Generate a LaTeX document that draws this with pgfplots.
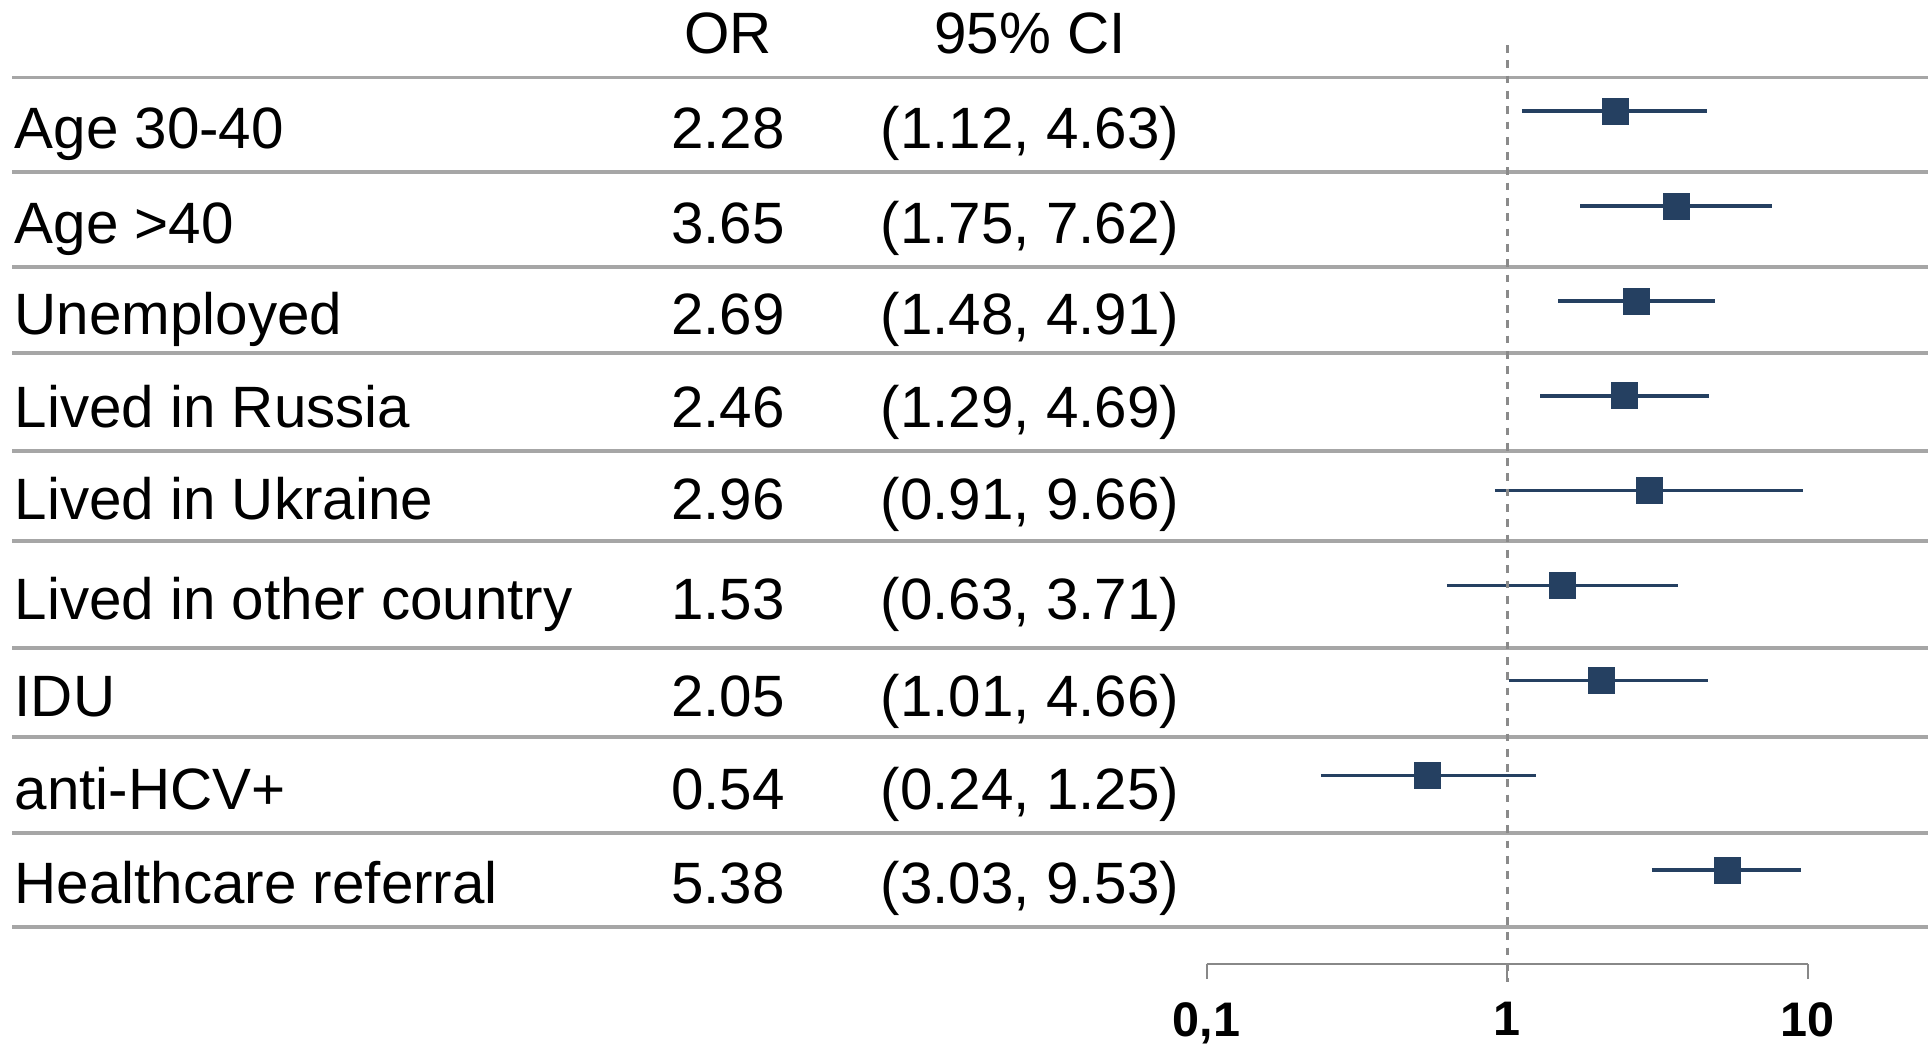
\documentclass[border=0pt]{standalone}
\usepackage{fontspec}
\setmainfont{Liberation Sans}
\usepackage{pgfplots}
\pgfplotsset{compat=1.18}
\usepackage{pgfplotstable}
\definecolor{navy}{RGB}{37,64,97}
\definecolor{rowline}{RGB}{166,166,166}
\definecolor{axisgray}{RGB}{136,136,136}
\definecolor{refgray}{RGB}{138,138,138}

\pgfplotstableread{
pos or lo hi
8 2.28 1.12 4.63
7 3.65 1.75 7.62
6 2.69 1.48 4.91
5 2.46 1.29 4.69
4 2.96 0.91 9.66
3 1.53 0.63 3.71
2 2.05 1.01 4.66
1 0.54 0.24 1.25
0 5.38 3.03 9.53
}\ortable

\begin{document}
\begin{tikzpicture}
\begin{scope}[x=0.1mm,y=-0.1mm]
  \fill[white] (0,0) rectangle (1928,1045);
  \foreach \y in {77.5,172,267,353,451,541,648,737,833,927}
    \draw[rowline, line width=0.36mm] (12,\y) -- (1928,\y);
  \begin{scope}[every node/.style={inner sep=0pt, font=\fontsize{16.6}{20}\selectfont}]
    \node[anchor=base] at (728,54) {OR};
    \node[anchor=base] at (1030,54) {95\% CI};
    % labels
    \node[anchor=base west] at (14,148) {Age 30-40};
    \node[anchor=base west] at (14,243) {Age >40};
    \node[anchor=base west] at (14,334) {Unemployed};
    \node[anchor=base west] at (14,427) {Lived in Russia};
    \node[anchor=base west] at (14,519) {Lived in Ukraine};
    \node[anchor=base west] at (14,619) {Lived in other country};
    \node[anchor=base west] at (14,716) {IDU};
    \node[anchor=base west] at (14,809) {anti-HCV+};
    \node[anchor=base west] at (14,903) {Healthcare referral};
    % OR
    \node[anchor=base] at (728,148) {2.28};
    \node[anchor=base] at (728,243) {3.65};
    \node[anchor=base] at (728,334) {2.69};
    \node[anchor=base] at (728,427) {2.46};
    \node[anchor=base] at (728,519) {2.96};
    \node[anchor=base] at (728,619) {1.53};
    \node[anchor=base] at (728,716) {2.05};
    \node[anchor=base] at (728,809) {0.54};
    \node[anchor=base] at (728,903) {5.38};
    % CI
    \node[anchor=base] at (1030,148) {(1.12, 4.63)};
    \node[anchor=base] at (1030,243) {(1.75, 7.62)};
    \node[anchor=base] at (1030,334) {(1.48, 4.91)};
    \node[anchor=base] at (1030,427) {(1.29, 4.69)};
    \node[anchor=base] at (1030,519) {(0.91, 9.66)};
    \node[anchor=base] at (1030,619) {(0.63, 3.71)};
    \node[anchor=base] at (1030,716) {(1.01, 4.66)};
    \node[anchor=base] at (1030,809) {(0.24, 1.25)};
    \node[anchor=base] at (1030,903) {(3.03, 9.53)};
  \end{scope}
\end{scope}

\begin{axis}[
  at={(120.67mm,-96.4mm)}, anchor=south west,
  scale only axis, width=60.1mm, height=91.9mm,
  xmode=log, xmin=0.1, xmax=10,
  ymin=-0.988, ymax=8.6955,
  axis y line=none,
  axis x line*=bottom,
  x axis line style={axisgray, line width=0.22mm, -},
  xtick={0.1,1,10}, xticklabels={{0,1},1,10},
  xminorticks=false,
  tick align=outside, major tick length=1.5mm,
  xtick style={axisgray, line width=0.22mm},
  xticklabel style={font=\fontsize{13.8}{15}\selectfont\bfseries, text=black, yshift=-1.1mm},
  clip=false,
]
  \addplot[navy, line width=0.36mm, mark=none] coordinates {(1.12,8) (4.63,8)};
  \addplot[navy, line width=0.36mm, mark=none] coordinates {(1.75,7) (7.62,7)};
  \addplot[navy, line width=0.36mm, mark=none] coordinates {(1.48,6) (4.91,6)};
  \addplot[navy, line width=0.36mm, mark=none] coordinates {(1.29,5) (4.69,5)};
  \addplot[navy, line width=0.36mm, mark=none] coordinates {(0.91,4) (9.66,4)};
  \addplot[navy, line width=0.36mm, mark=none] coordinates {(0.63,3) (3.71,3)};
  \addplot[navy, line width=0.36mm, mark=none] coordinates {(1.01,2) (4.66,2)};
  \addplot[navy, line width=0.36mm, mark=none] coordinates {(0.24,1) (1.25,1)};
  \addplot[navy, line width=0.36mm, mark=none] coordinates {(3.03,0) (9.53,0)};
  \addplot[refgray, line width=0.26mm, dash pattern=on 0.77mm off 0.76mm, mark=none] coordinates {(1,8.6955) (1,-1.178)};
  \addplot[only marks, mark=square*, mark size=1.3mm, mark options={fill=navy, draw=navy, line width=0.05mm}] table[x=or, y=pos] {\ortable};
\end{axis}
\pgfresetboundingbox
\path[use as bounding box] (0,0) rectangle (192.8mm,-104.5mm);
\end{tikzpicture}
\end{document}
